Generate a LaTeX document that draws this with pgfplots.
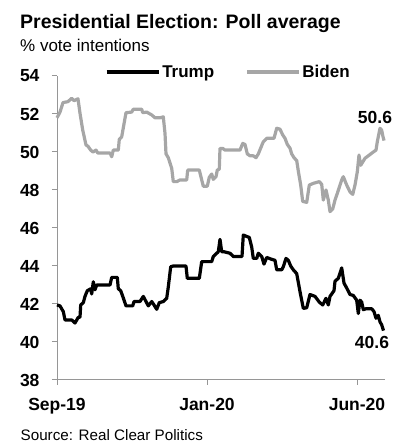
\documentclass[border=0pt]{standalone}
\usepackage{fontspec}
\setmainfont{Liberation Sans}
\usepackage{pgfplots}
\pgfplotsset{compat=1.18}
\definecolor{bidengray}{RGB}{166,166,166}
\definecolor{axisgray}{RGB}{150,150,150}
\begin{document}
\begin{tikzpicture}
\path[use as bounding box] (0bp,0bp) rectangle (403bp,444bp);
\node[anchor=base west, inner sep=0pt, font=\fontsize{19.5bp}{22bp}\selectfont\bfseries] at (20bp,415.7bp) {Presidential Election: Poll average};
\node[anchor=base west, inner sep=0pt, font=\fontsize{17bp}{20bp}\selectfont] at (20bp,392.3bp) {\% vote intentions};
\node[anchor=base west, inner sep=0pt, font=\fontsize{15.2bp}{18bp}\selectfont] at (20.5bp,4bp) {Source: Real Clear Politics};
\begin{axis}[
  at={(57bp,64bp)}, anchor=south west,
  scale only axis, width=328bp, height=304bp,
  xmin=0, xmax=328, ymin=38, ymax=54,
  axis lines=left,
  axis line style={draw=axisgray, line width=1bp, -},
  tick align=outside, major tick length=5bp,
  tick style={draw=axisgray, line width=1bp},
  xtick={0,150,300}, xticklabels={Sep-19,Jan-20,Jun-20},
  ytick={38,40,...,54},
  /pgf/number format/assume math mode=true,
  tick label style={font=\fontsize{17.5bp}{20bp}\selectfont\bfseries},
  yticklabel style={xshift=-9bp},
  xticklabel style={yshift=-10bp},
  clip=false,
  legend columns=2,
  legend style={at={(0.146,1.013)}, anchor=west, draw=none, fill=none, inner sep=0pt,
    font=\fontsize{17bp}{20bp}\selectfont\bfseries,
    /tikz/every even column/.append style={column sep=29bp}},
  legend image code/.code={\draw[#1] (0bp,0bp) -- (52bp,0bp);},
]
\addplot[black, line width=3.2bp, line join=round] coordinates {
(0,41.95) (3,41.9) (6.3,41.6) (8,41.16) (14.7,41.16) (18,41.0) (21.3,41.3) (23,41.3)
(23.7,41.95) (26.3,42.07) (28,42.4) (30.3,42.7) (33.7,42.8) (34.7,42.53) (36.3,43.17)
(38,42.75) (39.7,43.0) (53,43.0) (54.7,43.4) (60.3,43.4) (61.3,42.8) (63.7,42.7)
(66.3,42.32) (69,41.9) (75.7,41.9) (77,42.13) (83,42.13) (86.3,42.4) (89,42.13)
(91.3,41.9) (94.7,42.13) (97,41.95) (99.7,41.72) (102.3,42.07) (106.3,42.13)
(109.7,42.3) (111.3,42.9) (113.7,43.96) (116.3,44.0) (129,44.0) (130.3,43.35)
(142.3,43.35) (144.7,44.23) (154.7,44.23) (156.3,44.5) (161.3,44.75) (163,45.4)
(164.7,44.75) (167,44.75) (173,44.67) (176.3,44.5) (185,44.5) (186.3,45.63)
(192.3,45.5) (194.7,45.0) (196.3,44.4) (199.7,44.4) (201.3,44.67) (204.7,44.5)
(207,44.1) (209.7,44.45) (214.7,44.35) (218,44.3) (219.7,43.8) (224.7,43.8)
(226.3,43.96) (229,44.4) (231.3,44.3) (233.7,44.0) (236.3,43.8) (239.7,43.6)
(243,42.65) (246.3,41.77) (249.7,41.8) (253,42.5) (258,42.4) (262.3,42.1)
(265.7,41.95) (269,42.3) (271.3,41.95) (273,42.4) (277,42.7) (278,43.2)
(281.3,43.35) (284.7,43.9) (287,43.1) (289.7,42.84) (293,42.5) (296.3,42.45)
(299.7,42.2) (301.3,41.5) (303,42.2) (304.7,42.1) (306.3,41.7) (309,41.75)
(314.7,41.75) (317,41.6) (319,41.25) (321.3,41.4) (323,41.06) (324.7,40.9) (326.5,40.6)
};
\addlegendentry{Trump}
\addplot[bidengray, line width=3.2bp, line join=round] coordinates {
(0,51.8) (3,52.1) (6,52.6) (11,52.65) (14.7,52.83) (17,52.7) (21,52.8) (23,52.04)
(25.7,51.16) (29,50.37) (31,50.3) (33.7,50.1) (36,50.0) (39,50.1) (40.7,49.95)
(53,49.95) (54.7,49.75) (56.3,50.1) (61.3,50.1) (62.3,50.67) (64.7,50.8) (69,52.07)
(74.7,52.1) (76.3,52.25) (84.7,52.25) (85.7,52.07) (89.7,52.1) (94.7,51.95) (98,51.8)
(103,51.8) (106.3,51.85) (108,50.98) (109,49.9) (111.3,49.7) (114.7,49.14)
(116.3,48.44) (119.7,48.44) (123,48.53) (129.7,48.53) (130.7,49.05) (142.3,49.05)
(144.7,48.53) (146.3,48.2) (150.3,48.2) (152.3,48.67) (154.7,48.84) (156.3,48.56)
(159,48.7) (160.3,49.05) (162.3,49.1) (163,50.19) (165.7,50.19) (168,50.1) (183,50.1)
(185.7,50.45) (188,50.4) (190.3,49.9) (193,49.8) (196.3,49.8) (199,49.7) (201.3,49.9)
(206.3,50.54) (209.7,50.72) (217,50.72) (219.7,51.25) (223,51.2) (225.7,50.9)
(228,50.72) (230.3,50.4) (233,50.2) (234.7,49.9) (237,49.7) (239.7,49.55)
(241.3,49.0) (243.7,48.26) (245.7,47.4) (249.7,47.35) (252.3,48.26) (256.3,48.35)
(262.3,48.44) (264.7,48.3) (266.3,47.47) (269,48.0) (271.3,47.47) (273,46.86)
(275.7,47.0) (278,47.47) (280.3,47.82) (284.7,48.53) (286.3,48.7) (289.7,48.26)
(293,47.9) (295.7,47.77) (298,48.26) (300.3,48.96) (302,49.84) (303.7,49.3)
(308,49.67) (312.3,49.84) (316.3,50.0) (319,50.1) (320.3,50.54) (323,51.25)
(324.7,51.15) (325.8,50.85) (327,50.6)
};
\addlegendentry{Biden}
\node[font=\fontsize{17.5bp}{20bp}\selectfont\bfseries] at (axis cs:318,51.8) {50.6};
\node[font=\fontsize{17.5bp}{20bp}\selectfont\bfseries] at (axis cs:315,40.0) {40.6};
\end{axis}
\end{tikzpicture}
\end{document}
